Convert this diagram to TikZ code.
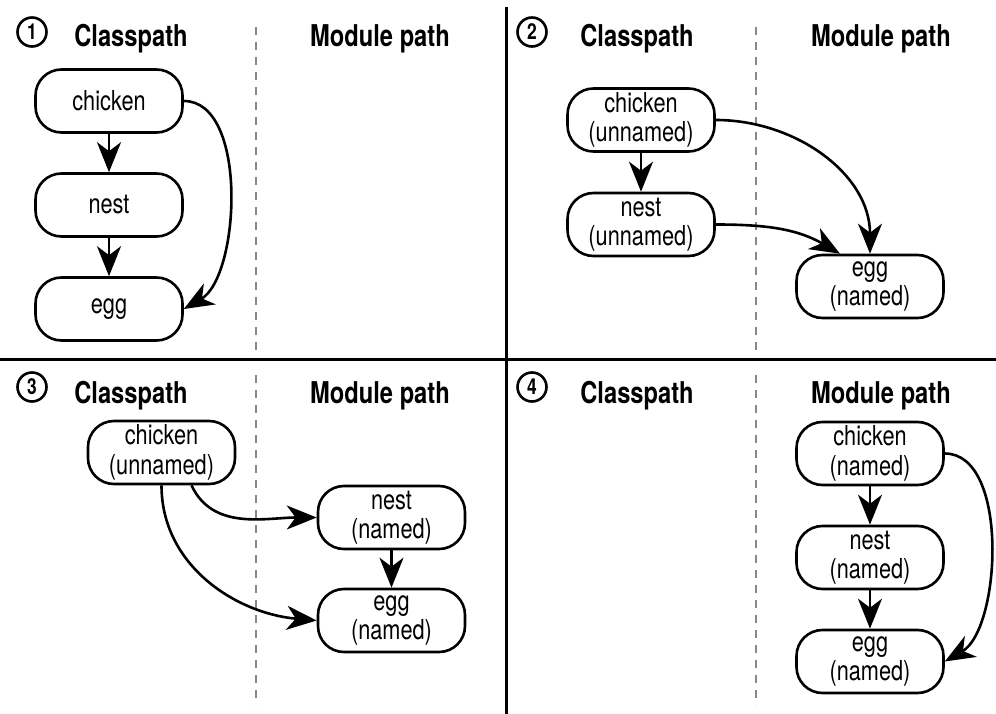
\documentclass[tikz,border=0pt]{standalone}
\usepackage{fontspec}
\setmainfont[FakeStretch=0.79]{TeX Gyre Heros}
\usetikzlibrary{
  positioning,
  arrows.meta
}
\definecolor{divider}{HTML}{888888}

\begin{document}
\begin{tikzpicture}[
  x=1pt, y=1pt,
  mod/.style={draw, line width=2.6pt, rounded corners=26pt, minimum width=147pt,
              minimum height=63pt, inner sep=0pt, align=center,
              font=\fontsize{27.5}{29.5}\selectfont},
  head/.style={anchor=base, font=\fontsize{30}{32}\selectfont\bfseries},
  num/.style={draw, circle, line width=2.6pt, minimum size=29pt, inner sep=0pt,
              font=\fontsize{22}{22}\selectfont\bfseries},
  dep/.style={line width=2.6pt, -{Stealth[length=30pt, width=24pt, inset=9pt]}},
  split/.style={divider, line width=1.8pt, dash pattern=on 8pt off 7pt}
]
  \useasboundingbox (0,0) rectangle (996,-714);

  % frame
  \draw[line width=3pt] (506,-7) -- (506,-714);
  \draw[line width=3pt] (0,-359) -- (996,-359);
  \draw[split] (256,-27) -- (256,-350);
  \draw[split] (756,-27) -- (756,-350);
  \draw[split] (256,-375) -- (256,-705);
  \draw[split] (756,-375) -- (756,-705);

  % headings
  \node[num] (n1) at (32,-32) {1};
  \node[num] (n2) at (532,-32) {2};
  \node[num] (n3) at (32,-387) {3};
  \node[num] (n4) at (532,-387) {4};
  \node[head] (cp1) at (131,-47) {Classpath};
  \node[head] (mp1) at (380,-47) {Module path};
  \node[head] (cp2) at (637,-47) {Classpath};
  \node[head] (mp2) at (881,-47) {Module path};
  \node[head] (cp3) at (131,-403) {Classpath};
  \node[head] (mp3) at (380,-403) {Module path};
  \node[head] (cp4) at (637,-403) {Classpath};
  \node[head] (mp4) at (881,-403) {Module path};

  % 1: all on the classpath
  \node[mod] (chickenA) at (109,-101) {chicken};
  \node[mod] (nestA) at (109,-205) {nest};
  \node[mod] (eggA) at (109,-309) {egg};
  \draw[dep] (chickenA) -- (nestA);
  \draw[dep] (nestA) -- (eggA);
  \draw[dep] (chickenA.east) to[out=0, in=30, looseness=0.8] (eggA.east);

  % 2: egg moved to the module path
  \node[mod] (chickenB) at (641,-120) {chicken\\(unnamed)};
  \node[mod] (nestB) at (641,-224.5) {nest\\(unnamed)};
  \node[mod] (eggB) at (870,-286.5) {egg\\(named)};
  \draw[dep] (chickenB) -- (nestB);
  \draw[dep] (chickenB.east) to[out=0, in=90] (eggB.north);
  \draw[dep] (nestB.east) to[out=0, in=150] ([xshift=-30pt]eggB.north);

  % 3: nest and egg on the module path
  \node[mod] (chickenC) at (161.5,-452.5) {chicken\\(unnamed)};
  \node[mod] (nestC) at (391.5,-517.5) {nest\\(named)};
  \node[mod] (eggC) at (391.5,-620.5) {egg\\(named)};
  \draw[dep] ([xshift=30pt]chickenC.south) to[out=-65, in=180] (nestC.west);
  \draw[dep] (chickenC.south) to[out=-90, in=175] (eggC.west);
  \draw[dep] (nestC) -- (eggC);

  % 4: all on the module path
  \node[mod] (chickenD) at (870,-453.5) {chicken\\(named)};
  \node[mod] (nestD) at (870,-557.5) {nest\\(named)};
  \node[mod] (eggD) at (870,-661.5) {egg\\(named)};
  \draw[dep] (chickenD) -- (nestD);
  \draw[dep] (nestD) -- (eggD);
  \draw[dep] (chickenD.east) to[out=0, in=30, looseness=0.8] (eggD.east);
\end{tikzpicture}
\end{document}
